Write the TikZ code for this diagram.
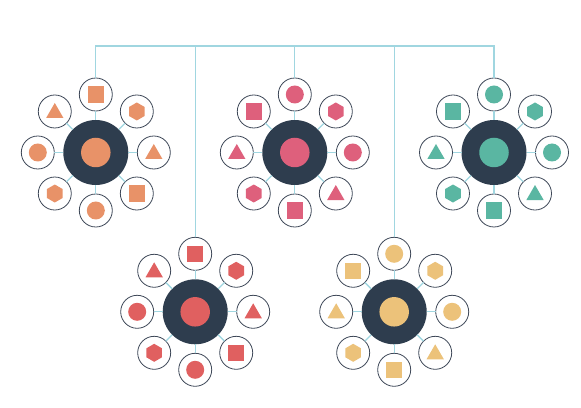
\documentclass[tikz,border=0pt]{standalone}
\usetikzlibrary{shapes.geometric}

\definecolor{hubdark}{RGB}{46,61,78}
\definecolor{ringgray}{RGB}{62,72,88}
\definecolor{linkblue}{RGB}{160,214,224}
\definecolor{tone1}{RGB}{232,146,104}
\definecolor{tone2}{RGB}{222,96,124}
\definecolor{tone3}{RGB}{90,182,162}
\definecolor{tone4}{RGB}{224,96,96}
\definecolor{tone5}{RGB}{236,194,122}

% one hub: name, centre, colour, the eight shapes from north clockwise
\newcommand{\hubcluster}[4]{%
  \node[hub] (#1) at (#2) {};
  \node[core,fill=#3] (#1-core) at (#2) {};
  \foreach \s [count=\i, evaluate=\i as \ang using {90-45*(\i-1)}] in {#4} {
    \node[sat] (#1-\i) at ([shift={(\ang:58)}]#1) {};
    \draw[spoke] (#1) -- (#1-\i);
    \node[\s,fill=#3] (#1-\i-fig) at (#1-\i) {};
  }
}

\begin{document}
\begin{tikzpicture}[x=1pt,y=1pt,
    hub/.style={circle,fill=hubdark,minimum size=65pt,inner sep=0pt,outer sep=0pt},
    core/.style={circle,minimum size=29.5pt,inner sep=0pt},
    sat/.style={circle,draw=ringgray,line width=0.8pt,fill=white,minimum size=33pt,inner sep=0pt,outer sep=0pt},
    spoke/.style={draw=linkblue,line width=1.3pt},
    link/.style={draw=linkblue,line width=1.2pt},
    sq/.style={rectangle,minimum size=16.5pt,inner sep=0pt},
    dot/.style={circle,minimum size=18pt,inner sep=0pt},
    tri/.style={regular polygon,regular polygon sides=3,minimum size=20pt,inner sep=0pt,yshift=-1.5pt},
    hex/.style={regular polygon,regular polygon sides=6,shape border rotate=90,minimum size=18pt,inner sep=0pt}]
    \useasboundingbox (0,0) rectangle (581,407);

    \hubcluster{c1}{95.8,254.5}{tone1}{sq,hex,tri,sq,dot,hex,dot,tri}
    \hubcluster{c2}{294.8,254.5}{tone2}{dot,hex,dot,tri,sq,hex,tri,sq}
    \hubcluster{c3}{494,254.5}{tone3}{dot,hex,dot,tri,sq,hex,tri,sq}
    \hubcluster{c4}{195.2,95.2}{tone4}{sq,hex,tri,sq,dot,hex,dot,tri}
    \hubcluster{c5}{394.2,95.2}{tone5}{dot,hex,dot,tri,sq,hex,tri,sq}

    % the tree on top
    \coordinate (bar) at (0,361);
    \draw[link] (c1-1.north) |- (c3-1.north |- bar) -- (c3-1.north);
    \draw[link] (c2-1.north) -- (c2-1.north |- bar);
    \draw[link] (c4-1.north) -- (c4-1.north |- bar);
    \draw[link] (c5-1.north) -- (c5-1.north |- bar);
  \end{tikzpicture}
\end{document}
